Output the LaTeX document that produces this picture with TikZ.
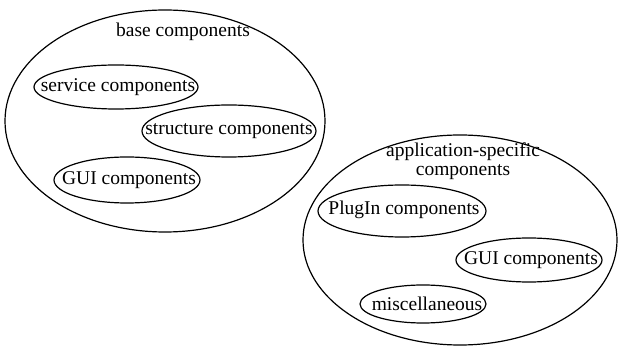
\documentclass[tikz,border=0pt]{standalone}
\usepackage{fontspec}
\setmainfont{Liberation Serif}
\begin{document}
\begin{tikzpicture}[x=1pt,y=-1pt,
  ring/.style={draw,line width=1.2pt},
  lbl/.style={font=\fontsize{19.5}{19}\selectfont,align=center,inner sep=0pt}]
\useasboundingbox (0,0) rectangle (619,347);
\draw[ring] (165,121) ellipse [x radius=160pt, y radius=111pt];
\draw[ring] (460,240) ellipse [x radius=157pt, y radius=105pt];
\node[lbl] (basel) at (183,32) {base components};
\draw[ring] (116,87) ellipse [x radius=82pt, y radius=22pt];
\node[lbl] (serv) at (118,87) {service components};
\draw[ring] (229,131) ellipse [x radius=87pt, y radius=26pt];
\node[lbl] (struct) at (229,131) {structure components};
\draw[ring] (127,180) ellipse [x radius=73pt, y radius=23pt];
\node[lbl] (gui1) at (129,180) {GUI components};
\node[lbl] (appl) at (463,161) {application-specific\\components};
\draw[ring] (402,211) ellipse [x radius=84pt, y radius=26pt];
\node[lbl] (plug) at (404,210) {PlugIn components};
\draw[ring] (529,260) ellipse [x radius=73pt, y radius=22pt];
\node[lbl] (gui2) at (531,260) {GUI components};
\draw[ring] (423,304) ellipse [x radius=63pt, y radius=19pt];
\node[lbl] (misc) at (427,304) {miscellaneous};
\end{tikzpicture}
\end{document}
